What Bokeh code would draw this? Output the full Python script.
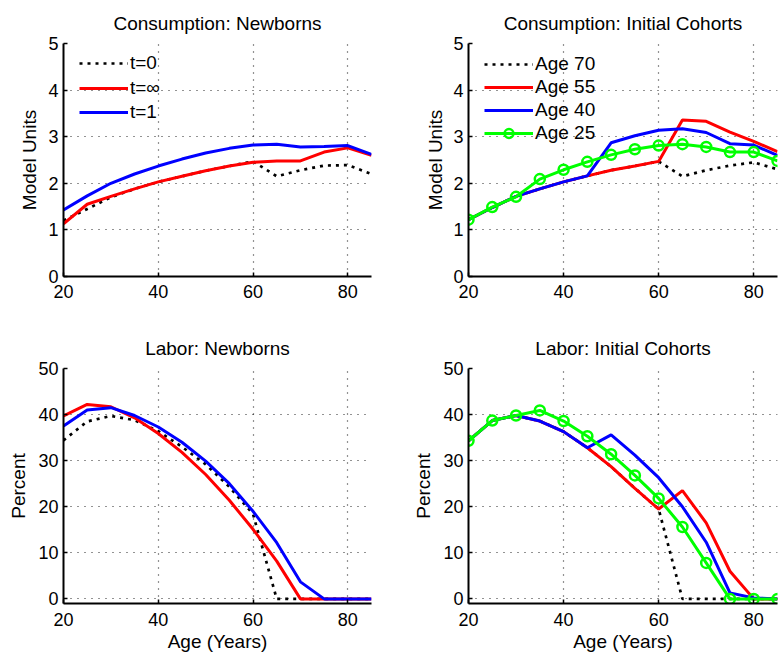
from bokeh.plotting import figure
from bokeh.layouts import column, row
from bokeh.models import Range1d, FixedTicker, Legend, LegendItem
from bokeh.embed import file_html
from bokeh.resources import INLINE

# ---------------- data ----------------
ages = [20, 25, 30, 35, 40, 45, 50, 55, 60, 65, 70, 75, 80, 85]

# Consumption: Newborns
cons_new_t0 = [1.20, 1.45, 1.70, 1.88, 2.03, 2.15, 2.27, 2.37, 2.47, 2.15, 2.28, 2.38, 2.39, 2.20]
cons_new_tinf = [1.13, 1.55, 1.72, 1.88, 2.03, 2.15, 2.27, 2.37, 2.45, 2.48, 2.48, 2.67, 2.76, 2.60]
cons_new_t1 = [1.43, 1.73, 2.00, 2.20, 2.37, 2.52, 2.65, 2.75, 2.82, 2.84, 2.78, 2.79, 2.81, 2.62]

# Consumption: Initial Cohorts
cons_ini_70 = [1.22, 1.48, 1.72, 1.88, 2.03, 2.16, 2.28, 2.37, 2.47, 2.15, 2.28, 2.38, 2.45, 2.30]
cons_ini_55 = [1.22, 1.48, 1.72, 1.88, 2.03, 2.16, 2.28, 2.37, 2.47, 3.36, 3.33, 3.10, 2.90, 2.68]
cons_ini_40 = [1.22, 1.48, 1.72, 1.88, 2.03, 2.16, 2.87, 3.02, 3.14, 3.17, 3.09, 2.85, 2.82, 2.60]
cons_ini_25 = [1.22, 1.49, 1.71, 2.09, 2.29, 2.46, 2.61, 2.73, 2.81, 2.84, 2.78, 2.67, 2.67, 2.48]

# Labor: Newborns
lab_new_t0 = [34.4, 38.5, 39.7, 38.8, 36.4, 33.0, 29.2, 24.3, 18.4, 0, 0, 0, 0, 0]
lab_new_tinf = [39.7, 42.2, 41.7, 39.3, 35.9, 31.8, 27.0, 21.4, 15.1, 8.2, 0, 0, 0, 0]
lab_new_t1 = [37.5, 41.0, 41.5, 39.8, 37.3, 34.0, 29.9, 25.0, 19.0, 12.2, 3.7, 0, 0, 0]

# Labor: Initial Cohorts
lab_ini_70 = [34.3, 38.7, 39.8, 38.6, 36.3, 32.8, 28.7, 24.0, 19.5, 0, 0, 0, 0, 0]
lab_ini_55 = [34.3, 38.7, 39.8, 38.6, 36.3, 32.8, 28.7, 24.0, 19.5, 23.5, 16.5, 6.0, 0, 0]
lab_ini_40 = [34.3, 38.7, 39.8, 38.6, 36.3, 32.8, 35.6, 31.2, 26.3, 20.0, 12.3, 1.3, 0.2, 0]
lab_ini_25 = [34.3, 38.7, 39.8, 40.9, 38.6, 35.3, 31.4, 26.8, 21.8, 15.6, 7.8, 0, 0, 0]

x_ticks = [20, 40, 60, 80]
cons_ticks = [0, 1, 2, 3, 4, 5]
lab_ticks = [0, 10, 20, 30, 40, 50]

FONT = "Liberation Sans"
RED = "#FF0000"
BLUE = "#0000FF"
GREEN = "#00FF00"


def make_fig(width, height, mbl, mbr, mbt, mbb, title, ylabel, yr, yticks,
             ylab_standoff, xtick_standoff, xlabel=None):
    p = figure(width=width, height=height, x_range=Range1d(20, 85),
               y_range=Range1d(*yr), output_backend="svg", toolbar_location=None,
               min_border_left=mbl, min_border_right=mbr,
               min_border_top=mbt, min_border_bottom=mbb)
    p.background_fill_color = "white"
    p.border_fill_color = "white"
    p.outline_line_color = None
    p.title.text = title
    p.title.align = "center"
    p.title.text_font = FONT
    p.title.text_font_size = "19px"
    p.title.text_font_style = "normal"
    p.title.text_color = "black"
    p.title.standoff = 20

    p.xaxis.ticker = FixedTicker(ticks=x_ticks)
    p.yaxis.ticker = FixedTicker(ticks=yticks)
    for ax in (p.xaxis[0], p.yaxis[0]):
        ax.axis_line_width = 2
        ax.axis_line_color = "black"
        ax.major_tick_in = 4
        ax.major_tick_out = 0
        ax.major_tick_line_width = 1.5
        ax.major_tick_line_color = "black"
        ax.minor_tick_line_color = None
        ax.major_label_text_font = FONT
        ax.major_label_text_font_size = "18px"
        ax.major_label_text_color = "black"
        ax.axis_label_text_font = FONT
        ax.axis_label_text_font_size = "19px"
        ax.axis_label_text_font_style = "normal"
        ax.axis_label_text_color = "black"
    p.xaxis.major_label_standoff = xtick_standoff
    p.yaxis.major_label_standoff = 5
    p.yaxis.axis_label = ylabel
    p.yaxis.axis_label_standoff = ylab_standoff
    if xlabel:
        p.xaxis.axis_label = xlabel
        p.xaxis.axis_label_standoff = 2
    for g in (p.xgrid[0], p.ygrid[0]):
        g.grid_line_color = "black"
        g.grid_line_dash = "1 6"
        g.grid_line_width = 1.2
        g.grid_line_alpha = 0.85
    return p


def add_legend(p, items, loc, spacing):
    leg = Legend(items=items, location=loc, padding=0, spacing=spacing,
                 label_text_font=FONT, label_text_font_size="19px",
                 label_text_color="black", label_standoff=2,
                 glyph_width=49, glyph_height=22, label_height=22,
                 background_fill_alpha=0, border_line_color=None)
    p.add_layout(leg)


# ---------------- Consumption: Newborns ----------------
p1 = make_fig(408, 320, 63, 37, 42, 44, "Consumption: Newborns", "Model Units",
              (0, 5), cons_ticks, 5, 8)
r10 = p1.line(ages, cons_new_t0, line_color="black", line_width=2.7, line_dash="3 5")
r11 = p1.line(ages, cons_new_tinf, line_color=RED, line_width=3)
r12 = p1.line(ages, cons_new_t1, line_color=BLUE, line_width=3)
# one single-row legend per entry, so every row sits where it should
add_legend(p1, [LegendItem(label="t=0", renderers=[r10])], (16, 202), 0)
add_legend(p1, [LegendItem(label="t=\u221e", renderers=[r11])], (16, 177), 0)
add_legend(p1, [LegendItem(label="t=1", renderers=[r12])], (16, 153), 0)

# ---------------- Consumption: Initial Cohorts ----------------
p2 = make_fig(375, 320, 60, 6, 42, 44, "Consumption: Initial Cohorts", "Model Units",
              (0, 5), cons_ticks, 4, 8)
r20 = p2.line(ages, cons_ini_70, line_color="black", line_width=2.7, line_dash="3 5")
r21 = p2.line(ages, cons_ini_55, line_color=RED, line_width=3)
r22 = p2.line(ages, cons_ini_40, line_color=BLUE, line_width=3)
r23 = p2.line(ages, cons_ini_25, line_color=GREEN, line_width=3)
r23m = p2.scatter(ages, cons_ini_25, marker="circle", size=10, line_color=GREEN,
                  line_width=2.5, fill_color=None)
add_legend(p2, [LegendItem(label="Age 70", renderers=[r20]),
                LegendItem(label="Age 55", renderers=[r21]),
                LegendItem(label="Age 40", renderers=[r22]),
                LegendItem(label="Age 25", renderers=[r23, r23m])], (16, 132), 1)

# ---------------- Labor: Newborns ----------------
p3 = make_fig(408, 336, 63, 37, 48, 53, "Labor: Newborns", "Percent",
              (-1, 50), lab_ticks, 6, 9, xlabel="Age (Years)")
p3.line(ages, lab_new_t0, line_color="black", line_width=2.7, line_dash="3 5")
p3.line(ages, lab_new_tinf, line_color=RED, line_width=3)
p3.line(ages, lab_new_t1, line_color=BLUE, line_width=3)

# ---------------- Labor: Initial Cohorts ----------------
p4 = make_fig(375, 336, 60, 6, 48, 53, "Labor: Initial Cohorts", "Percent",
              (-1, 50), lab_ticks, 6, 9, xlabel="Age (Years)")
p4.line(ages, lab_ini_70, line_color="black", line_width=2.7, line_dash="3 5")
p4.line(ages, lab_ini_55, line_color=RED, line_width=3)
p4.line(ages, lab_ini_40, line_color=BLUE, line_width=3)
p4.line(ages, lab_ini_25, line_color=GREEN, line_width=3)
p4.scatter(ages, lab_ini_25, marker="circle", size=10, line_color=GREEN,
           line_width=2.5, fill_color=None)

layout = column(row(p1, p2), row(p3, p4))

open("out.html", "w").write(file_html(layout, INLINE))
